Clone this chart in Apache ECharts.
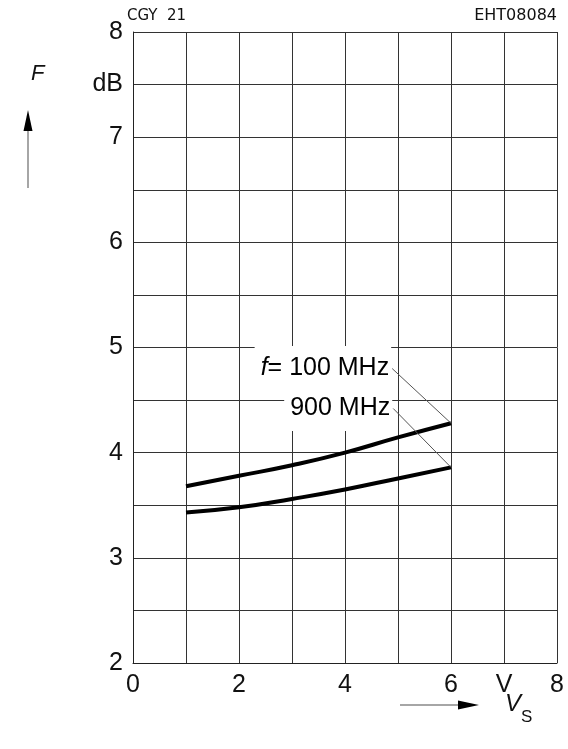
<!DOCTYPE html>
<html>
<head>
    <meta charset="UTF-8">
    <title>CGY 21 noise figure</title>
    <script src="https://cdn.jsdelivr.net/npm/echarts@6/dist/echarts.min.js"></script>
    <style>
        html, body { margin: 0; padding: 0; background: #fff; }
    </style>
</head>
<body>
    <div id="main" style="width: 568px; height: 749px;"></div>
    <script>
        // supply voltage V_S (V)
        var vs = [1, 2, 3, 4, 5, 6];
        // noise figure F (dB)
        var f100 = [3.68, 3.78, 3.88, 4.0, 4.145, 4.28];
        var f900 = [3.43, 3.48, 3.56, 3.65, 3.755, 3.86];
        // x tick labels
        var xLabels = { 0: '0', 2: '2', 4: '4', 6: '6', 7: 'V', 8: '8' };
        // y tick labels
        var yLabels = { 2: '2', 3: '3', 4: '4', 5: '5', 6: '6', 7: '7', 7.5: 'dB', 8: '8' };
        // leader lines from the labels to the curve ends
        var lead100 = [[4.89, 4.80], [6, 4.28]];
        var lead900 = [[4.91, 4.42], [6, 3.86]];

        var font = "'Liberation Sans', sans-serif";
        var myChart = echarts.init(document.getElementById('main'));

        function pairs(xs, ys) {
            return xs.map(function (x, i) { return [x, ys[i]]; });
        }

        var option = {
            animation: false,
            backgroundColor: '#fff',
            grid: { left: 133, right: 11, top: 32, bottom: 86 },
            xAxis: {
                type: 'value',
                min: 0, max: 8, interval: 1,
                axisLine: { show: true, lineStyle: { color: '#222', width: 1 } },
                axisTick: { show: false },
                splitLine: { show: true, lineStyle: { color: '#333', width: 1 } },
                axisLabel: {
                    margin: 10,
                    color: '#111',
                    fontSize: 25,
                    fontFamily: font,
                    formatter: function (v) { return xLabels[v] || ''; }
                }
            },
            yAxis: {
                type: 'value',
                min: 2, max: 8, interval: 0.5,
                axisLine: { show: true, lineStyle: { color: '#222', width: 1 } },
                axisTick: { show: false },
                splitLine: { show: true, lineStyle: { color: '#333', width: 1 } },
                axisLabel: {
                    margin: 10,
                    color: '#111',
                    fontSize: 25,
                    fontFamily: font,
                    formatter: function (v) { return yLabels[v] || ''; }
                }
            },
            series: [
                {
                    // 100 MHz
                    type: 'line',
                    data: pairs(vs, f100),
                    smooth: true,
                    symbol: 'none',
                    lineStyle: { color: '#000', width: 4 },
                    z: 5
                },
                {
                    // 900 MHz
                    type: 'line',
                    data: pairs(vs, f900),
                    smooth: true,
                    symbol: 'none',
                    lineStyle: { color: '#000', width: 4 },
                    z: 5
                },
                {
                    type: 'line',
                    data: lead100,
                    symbol: 'none',
                    lineStyle: { color: '#555', width: 1 },
                    z: 6
                },
                {
                    type: 'line',
                    data: lead900,
                    symbol: 'none',
                    lineStyle: { color: '#555', width: 1 },
                    z: 6
                },
                {
                    // curve labels with white background
                    type: 'scatter',
                    symbolSize: 0,
                    z: 4,
                    itemStyle: { color: '#000', opacity: 1 },
                    data: [
                        { value: lead100[0], lbl: '{i|f}{t|= 100 MHz}' },
                        { value: lead900[0], lbl: '{t|900 MHz}' }
                    ],
                    label: {
                        show: true,
                        position: 'left',
                        distance: 1,
                        color: '#000',
                        opacity: 1,
                        backgroundColor: '#fff',
                        padding: [10, 2, 10, 6],
                        formatter: function (p) { return p.data.lbl; },
                        rich: {
                            i: { fontSize: 25, fontStyle: 'italic', fontFamily: font, color: '#000' },
                            t: { fontSize: 25, fontFamily: font, color: '#000' }
                        }
                    }
                }
            ],
            graphic: [
                {
                    type: 'text', left: 127, top: 9,
                    style: { text: 'CGY  21', fontSize: 15, fontFamily: 'DejaVu Sans', fill: '#111' }
                },
                {
                    type: 'text', right: 11, top: 8,
                    style: { text: 'EHT08084', fontSize: 16, fontFamily: 'DejaVu Sans', fill: '#111' }
                },
                {
                    type: 'text', left: 31, top: 63,
                    style: { text: 'F', fontSize: 22, fontStyle: 'italic', fontFamily: font, fill: '#111' }
                },
                {
                    type: 'line', shape: { x1: 28, y1: 188, x2: 28, y2: 125 },
                    style: { stroke: '#888', lineWidth: 1.5 }
                },
                {
                    type: 'polygon', shape: { points: [[28, 110], [23.5, 131], [32.5, 131]] },
                    style: { fill: '#000' }
                },
                {
                    type: 'line', shape: { x1: 400, y1: 705, x2: 462, y2: 705 },
                    style: { stroke: '#888', lineWidth: 1.5 }
                },
                {
                    type: 'polygon', shape: { points: [[479, 705], [458, 700.5], [458, 709.5]] },
                    style: { fill: '#000' }
                },
                {
                    type: 'text', left: 505, top: 692,
                    style: { text: 'V', fontSize: 24, fontStyle: 'italic', fontFamily: font, fill: '#111' }
                },
                {
                    type: 'text', left: 521, top: 709,
                    style: { text: 'S', fontSize: 17, fontFamily: font, fill: '#111' }
                }
            ]
        };
        myChart.setOption(option);
    </script>
</body>
</html>
